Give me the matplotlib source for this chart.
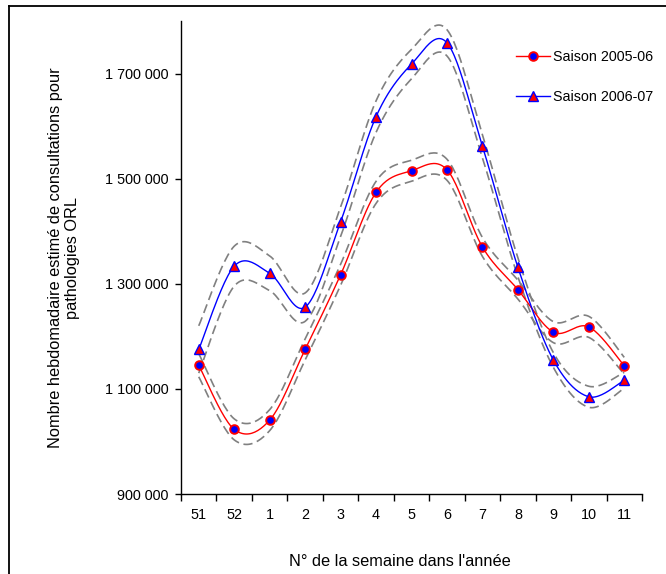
import numpy as np
import matplotlib
matplotlib.use("Agg")
import matplotlib.pyplot as plt
from matplotlib.lines import Line2D
from matplotlib.ticker import FixedLocator, FuncFormatter

plt.rcParams['font.family'] = ['Liberation Sans', 'DejaVu Sans']

# ---- data ----
weeks = ["51", "52", "1", "2", "3", "4", "5", "6", "7", "8", "9", "10", "11"]
season_0506 = [1145000, 1023000, 1040500, 1175000, 1317000, 1474000, 1515000,
               1517000, 1370000, 1289000, 1208000, 1218000, 1144000]
season_0607 = [1175000, 1333500, 1320000, 1255500, 1418000, 1618000, 1718000,
               1758500, 1561500, 1331500, 1155000, 1085000, 1116500]
# half-width of the dashed confidence bands
band_0506 = [22000, 20000, 20000, 20000, 20000, 21000, 20000, 20000, 18000,
             18000, 20000, 20000, 16000]
band_0607 = [45000, 38000, 33000, 27000, 28000, 30000, 28000, 25000, 22000,
             18000, 14000, 20000, 15000]
yticks = [900000, 1100000, 1300000, 1500000, 1700000]
labels = ["Saison 2005-06", "Saison 2006-07"]


def smooth(x, y, n=24):
    """Catmull-Rom style smoothing (as Excel's smoothed line)."""
    x = np.asarray(x, float)
    y = np.asarray(y, float)
    P = np.column_stack([x, y])
    P = np.vstack([P[0], P, P[-1]])
    out = []
    t = np.linspace(0, 1, n, endpoint=False)
    for i in range(1, len(P) - 2):
        p0, p1, p2, p3 = P[i - 1], P[i], P[i + 1], P[i + 2]
        c1 = p1 + (p2 - p0) / 6.0
        c2 = p2 - (p3 - p1) / 6.0
        b = ((1 - t) ** 3)[:, None] * p1 + (3 * (1 - t) ** 2 * t)[:, None] * c1 \
            + (3 * (1 - t) * t ** 2)[:, None] * c2 + (t ** 3)[:, None] * p2
        out.append(b)
    out.append(P[-2][None, :])
    out = np.vstack(out)
    return out[:, 0], out[:, 1]


W, H = 666, 574
fig = plt.figure(figsize=(W / 100, H / 100), dpi=100)
ax = fig.add_axes([181 / W, 1 - 494 / H, (642 - 181) / W, (494 - 21) / H])

xs = np.arange(len(weeks))
red = '#FF0000'
blue = '#0000FF'
gray = '#808080'

for vals, hw in [(season_0506, band_0506), (season_0607, band_0607)]:
    v = np.array(vals, float)
    h = np.array(hw, float)
    for b in (v + h, v - h):
        sx, sy = smooth(xs, b)
        ax.plot(sx, sy, color=gray, lw=1.2, dashes=(5.5, 2.8), zorder=2)

sx, sy = smooth(xs, season_0506)
ax.plot(sx, sy, color=red, lw=1.0, zorder=3)
sx, sy = smooth(xs, season_0607)
ax.plot(sx, sy, color=blue, lw=1.0, zorder=3)
ax.plot(xs, season_0506, ls='none', marker='o', ms=6.2, mfc=blue, mec=red,
        mew=1.4, zorder=4)
ax.plot(xs, season_0607, ls='none', marker='^', ms=7.8, mfc=red, mec=blue,
        mew=1.0, zorder=5)

ax.set_xlim(-0.5, len(weeks) - 0.5)
ax.set_ylim(900000, 1800000)

ax.xaxis.set_major_locator(FixedLocator(np.arange(-0.5, len(weeks), 1.0)))
ax.xaxis.set_major_formatter(FuncFormatter(lambda v, p: ""))
ax.xaxis.set_minor_locator(FixedLocator(xs))
ax.set_xticklabels(weeks, minor=True)
ax.tick_params(axis='x', which='major', direction='out', length=5, width=1,
               color='black')
ax.tick_params(axis='x', which='minor', length=0, pad=10, labelsize=10.4)

ax.set_yticks(yticks)
ax.yaxis.set_major_formatter(FuncFormatter(
    lambda v, p: f"{int(v):,}".replace(",", " ")))
ax.tick_params(axis='y', direction='out', length=4, width=1, pad=5,
               labelsize=10.4, color='black')

for s in ('top', 'right'):
    ax.spines[s].set_visible(False)
for s in ('left', 'bottom'):
    ax.spines[s].set_linewidth(1.0)
    ax.spines[s].set_color('black')

fig.text(64 / W, 1 - 258 / H,
         "Nombre hebdomadaire estimé de consultations pour\npathologies ORL",
         rotation=90, ha='center', va='center', multialignment='center',
         fontsize=11.8, linespacing=1.15)
fig.text(400 / W, 1 - 566 / H, "N° de la semaine dans l'année",
         ha='center', va='baseline', fontsize=11.8)

h1 = Line2D([], [], color=red, lw=1.0, marker='o', ms=6.2, mfc=blue, mec=red,
            mew=1.4)
h2 = Line2D([], [], color=blue, lw=1.0, marker='^', ms=7.8, mfc=red, mec=blue,
            mew=1.0)
fig.legend([h1, h2], labels, loc='upper left',
           bbox_to_anchor=(516 / W, 1 - 50 / H), frameon=False,
           fontsize=10.3, handlelength=2.35, handletextpad=0.25,
           labelspacing=1.85, borderpad=0, borderaxespad=0)

# figure frame (left and top edges visible)
fig.add_artist(Line2D([9 / W, 9 / W], [0, 1 - 6 / H], color='black', lw=1.3,
                      transform=fig.transFigure))
fig.add_artist(Line2D([9 / W, 1], [1 - 6 / H, 1 - 6 / H], color='black', lw=1.3,
                      transform=fig.transFigure))

fig.savefig("out.png", dpi=100)
